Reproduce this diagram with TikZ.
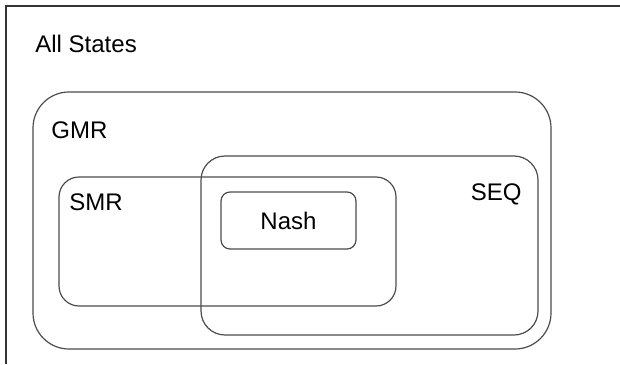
\documentclass[tikz,border=0pt]{standalone}
\usepackage{fontspec}
\setmainfont{Liberation Sans}
\begin{document}
\begin{tikzpicture}[x=0.5pt,y=-0.5pt,
    setbox/.style={draw=black!70, line width=0.6pt, inner sep=0pt},
    setlabel/.style={inner sep=0pt, font=\fontsize{12}{14}\selectfont}]
    \useasboundingbox (0,0) rectangle (620,364);
    % outer frame (cut off at right and bottom)
    \draw [black!80, line width=0.6pt] (6,364) |- (620,6);
    % sets
    \node [setbox, rounded corners=18pt, minimum width=259pt, minimum height=128.5pt] (gmr) at (292,220.5) {};
    \node [setbox, rounded corners=12pt, minimum width=168.5pt, minimum height=89.5pt] (seq) at (369.5,245.5) {};
    \node [setbox, rounded corners=10pt, minimum width=168.5pt, minimum height=64.5pt] (smr) at (227.5,241.5) {};
    \node [setbox, rounded corners=4.5pt, minimum width=67.5pt, minimum height=28.5pt, setlabel] (nash) at (288.5,220.5) {Nash};
    % labels
    \node [setlabel, anchor=west] (all) at (35,44) {All States};
    \node [setlabel, anchor=west] (gmrlabel) at (51,130) {GMR};
    \node [setlabel, anchor=east] (seqlabel) at (522,194) {SEQ};
    \node [setlabel, anchor=west] (smrlabel) at (69,202) {SMR};
\end{tikzpicture}
\end{document}
